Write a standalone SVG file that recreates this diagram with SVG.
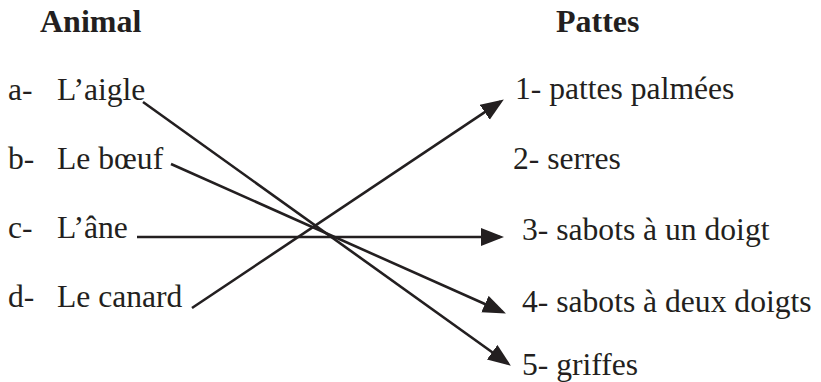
<svg xmlns="http://www.w3.org/2000/svg" width="821" height="382" viewBox="0 0 821 382">
<style>
.t{font-family:'Liberation Serif','DejaVu Serif',serif;fill:#231f20;font-size:31.6px}
.h{font-weight:bold;font-size:32px}
.c line{stroke:#231f20;stroke-width:2.6;fill:none}
</style>
<defs>
<marker id="ah" markerUnits="userSpaceOnUse" markerWidth="26" markerHeight="20" refX="19" refY="9" orient="auto">
<path d="M0,0 L23,9 L0,18 z" fill="#231f20"/>
</marker>
</defs>
<rect width="821" height="382" fill="#fff"/>
<g class="t">
<g id="title-animal"><text class="h" x="40" y="32">Animal</text></g>
<g id="title-pattes"><text class="h" x="556" y="32">Pattes</text></g>
<g id="a"><text x="8" y="100">a-</text><text x="57" y="100">L’aigle</text></g>
<g id="b"><text x="8" y="169">b-</text><text x="57" y="169">Le bœuf</text></g>
<g id="c"><text x="8" y="238">c-</text><text x="57" y="238">L’âne</text></g>
<g id="d"><text x="8" y="307">d-</text><text x="57" y="307">Le canard</text></g>
<g id="p1"><text x="515" y="99">1- pattes palmées</text></g>
<g id="p2"><text x="513" y="169">2- serres</text></g>
<g id="p3"><text x="522" y="240">3- sabots à un doigt</text></g>
<g id="p4"><text x="522" y="312">4- sabots à deux doigts</text></g>
<g id="p5"><text x="522" y="375">5- griffes</text></g>
</g>
<g class="c" id="connectors">
<line x1="143" y1="102" x2="507.6" y2="363.3" marker-end="url(#ah)"/>
<line x1="171" y1="164" x2="502.3" y2="311.8" marker-end="url(#ah)"/>
<line x1="137" y1="237" x2="500" y2="237" marker-end="url(#ah)"/>
<line x1="192" y1="308" x2="500.5" y2="101.7" marker-end="url(#ah)"/>
</g>
</svg>
